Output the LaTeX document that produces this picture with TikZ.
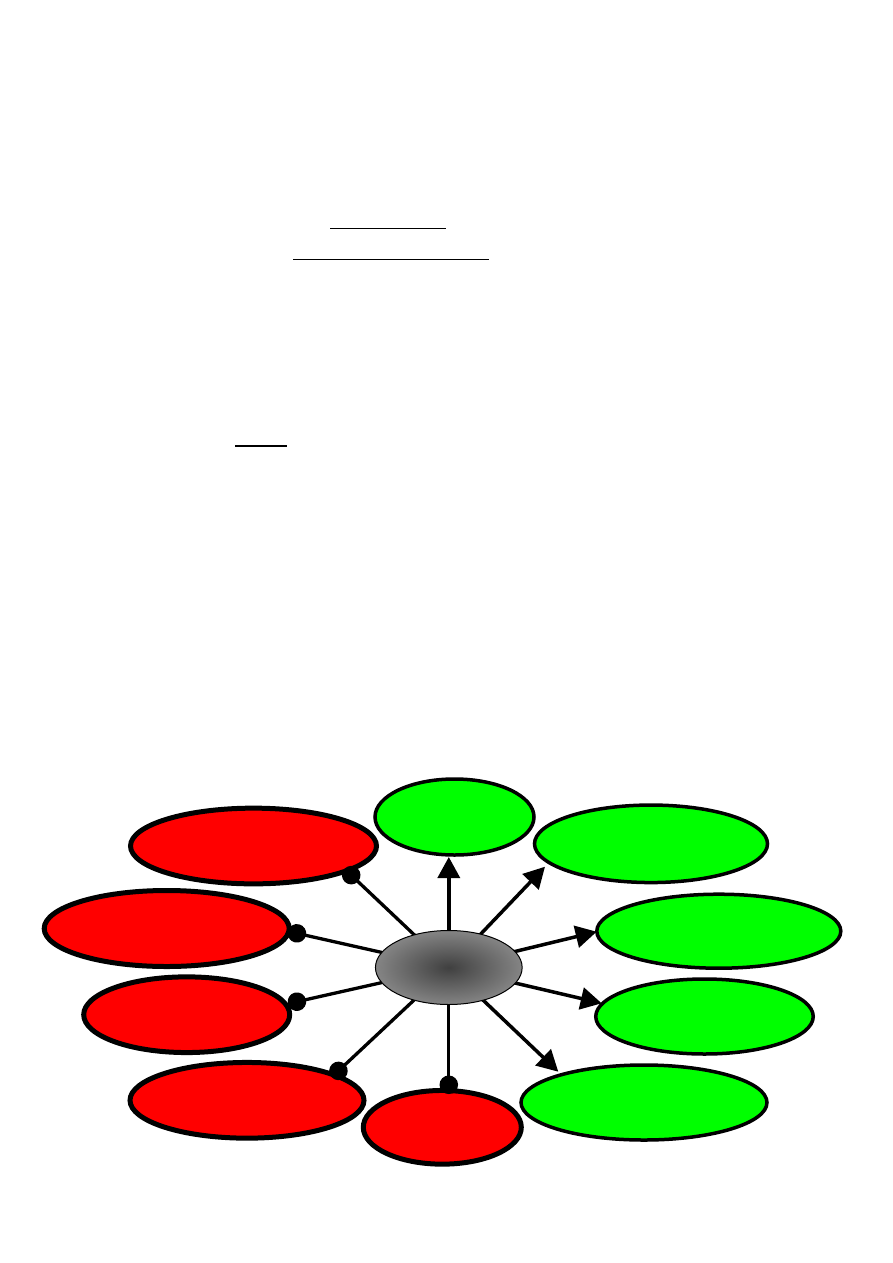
\documentclass[tikz,border=0pt]{standalone}
\usetikzlibrary{shapes.geometric,arrows.meta}
\begin{document}
\begin{tikzpicture}[x=1pt,y=-1pt,
  redell/.style={ellipse,draw=black,line width=5pt,fill=red,inner sep=0pt},
  greenell/.style={ellipse,draw=black,line width=3.5pt,fill=green,inner sep=0pt},
  hubell/.style={ellipse,draw=black,line width=1pt,inner sep=0pt,inner color=black!75,outer color=black!48},
  posarrow/.style={-{Triangle[length=21pt,width=22pt]},line width=3.5pt},
  negarrow/.style={-{Circle[length=18.5pt]},line width=3.3pt},
  uline/.style={line width=1.5pt}]
\useasboundingbox (0,0) rectangle (893,1263);
% underlines
\coordinate (u1a) at (330,228.5); \coordinate (u1b) at (446,228.5);
\coordinate (u2a) at (293,259.5); \coordinate (u2b) at (489,259.5);
\coordinate (u3a) at (235,446); \coordinate (u3b) at (287,446);
\draw[uline] (u1a) -- (u1b);
\draw[uline] (u2a) -- (u2b);
\draw[line width=2.5pt] (u3a) -- (u3b);
% red ellipses
\node[redell,minimum width=246pt,minimum height=75.7pt] (ra) at (253.5,846) {};
\node[redell,minimum width=245pt,minimum height=76pt] (rb) at (166.7,928.5) {};
\node[redell,minimum width=206pt,minimum height=75.7pt] (rc) at (186.7,1014.7) {};
\node[redell,minimum width=234pt,minimum height=75.7pt] (rd) at (247,1100.3) {};
\node[redell,minimum width=158pt,minimum height=73.7pt] (re) at (442.3,1127.3) {};
% green ellipses
\node[greenell,minimum width=159pt,minimum height=76pt] (g1) at (454.5,817) {};
\node[greenell,minimum width=233pt,minimum height=77.5pt] (g2) at (651,843.8) {};
\node[greenell,minimum width=244pt,minimum height=74pt] (g3) at (718.8,931.2) {};
\node[greenell,minimum width=217.5pt,minimum height=75pt] (g4) at (704.5,1016.5) {};
\node[greenell,minimum width=246pt,minimum height=75pt] (g5) at (644,1102.5) {};
% connector end points
\coordinate (hc) at (448.8,967.5);
\coordinate (tg1) at (448.8,857);
\coordinate (tg2) at (545,866.7);
\coordinate (tg3) at (596.7,931.7);
\coordinate (tg4) at (601.7,1003.3);
\coordinate (tg5) at (558.3,1071.7);
\coordinate (ta) at (344.5,868.8);
\coordinate (tb) at (287.9,931.3);
\coordinate (tc) at (287.9,1003.7);
\coordinate (td) at (331.7,1077.2);
\coordinate (te) at (448.8,1094);
\foreach \t in {tg1,tg2,tg3,tg4,tg5} \draw[posarrow] (hc) -- (\t);
\foreach \t in {ta,tb,tc,td,te} \draw[negarrow] (hc) -- (\t);
% hub
\node[hubell,minimum width=146.7pt,minimum height=74pt] (hub) at (hc) {};
\end{tikzpicture}
\end{document}
